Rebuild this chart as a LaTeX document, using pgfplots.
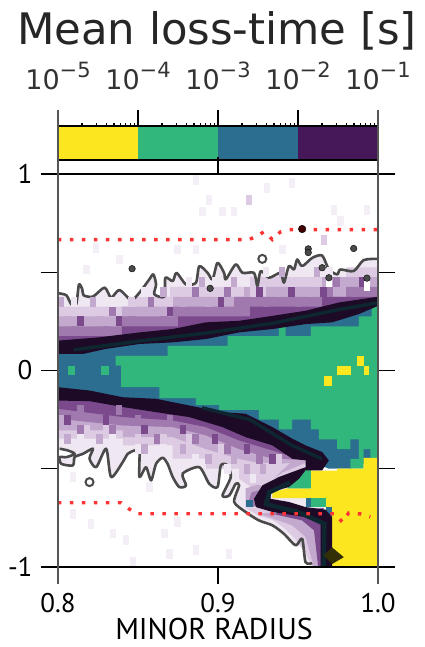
\documentclass[border=0pt]{standalone}
\usepackage{fontspec}
\setmainfont{PT Sans}
\newfontfamily\djv{DejaVu Sans}
\usepackage{pgfplots}
\pgfplotsset{compat=1.18}
\definecolor{vyel}{HTML}{FBE61F}
\definecolor{vgrn}{HTML}{31B67B}
\definecolor{vblu}{HTML}{2C6E8F}
\definecolor{vpur}{HTML}{46185A}
\definecolor{bandc}{HTML}{1C0A26}
\definecolor{bandi}{HTML}{0E2630}
\definecolor{Lone}{HTML}{EFE7F2}
\definecolor{Ltwo}{HTML}{DCCBE2}
\definecolor{Lthr}{HTML}{C3A9CD}
\definecolor{Lfou}{HTML}{A07AAE}
\definecolor{Lfiv}{HTML}{7A4A8C}
\definecolor{spine}{HTML}{555555}
\definecolor{cont}{HTML}{4A4A4A}
\pgfdeclareplotmark{cell}{\pgfpathrectangle{\pgfpoint{-3.2pt}{-4.9pt}}{\pgfpoint{6.4pt}{9.8pt}}\pgfusepathqfill}
\newcommand{\sci}[1]{10\raisebox{0.42em}{\fontsize{21}{21}\selectfont −#1}}
\begin{document}
\begin{tikzpicture}[x=1pt,y=1pt]
\path[use as bounding box] (-58,-80) rectangle (366,567);
\node[anchor=base,font=\djv\fontsize{43.4}{44}\selectfont,text=black!85] at (159,522) {Mean loss-time [s]};
% colour bar
\begin{axis}[at={(0pt,407pt)},anchor=south west,scale only axis,width=320pt,height=34pt,
  xmode=log,xmin=1e-5,xmax=1e-1,ymin=0,ymax=1,ytick=\empty,
  xtick={1e-5,1e-4,1e-3,1e-2,1e-1},xticklabels={\sci{5},\sci{4},\sci{3},\sci{2},\sci{1}},
  xticklabel pos=top,x tick label style={font=\djv\fontsize{27}{27}\selectfont,text=black!80,anchor=south,yshift=17pt},
  minor tick num=0,log ticks with fixed point=false,
  major tick length=16pt,tick align=outside,tick pos=upper,
  xtick style={black,line width=1.2pt},axis on top,
  separate axis lines,
  x axis line style={black,line width=1.6pt},y axis line style={draw=none}]
\addplot[fill=vyel,draw=none] coordinates {(1e-5,0)(1e-5,1)(1e-4,1)(1e-4,0)};
\addplot[fill=vgrn,draw=none] coordinates {(1e-4,0)(1e-4,1)(1e-3,1)(1e-3,0)};
\addplot[fill=vblu,draw=none] coordinates {(1e-3,0)(1e-3,1)(1e-2,1)(1e-2,0)};
\addplot[fill=vpur,draw=none] coordinates {(1e-2,0)(1e-2,1)(1e-1,1)(1e-1,0)};
\end{axis}
% main plot
\begin{axis}[at={(0pt,0pt)},anchor=south west,scale only axis,width=320pt,height=393pt,
  xmin=0.8,xmax=1,ymin=-1,ymax=1,clip=true,
  xtick={0.8,0.9,1},xticklabels={0.8,0.9,1.0},
  ytick={-1,-0.5,0,0.5,1},yticklabels={-1,,0,,1},
  x tick label style={font=\fontsize{27}{27}\selectfont,yshift=-6pt},
  y tick label style={font=\fontsize{27}{27}\selectfont,xshift=-5pt},
  xlabel={MINOR RADIUS},xlabel style={font=\fontsize{30}{30}\selectfont,inner sep=0pt,yshift=-1.5pt,xshift=-4pt},
  tick align=outside,x tick style={black,line width=1.2pt},y tick style={black,line width=1.4pt},
  major tick length=17pt,ytick pos=both,xtick pos=both,
  axis on top,axis line style={draw=none}]
% faint scattered cells
\addplot[only marks,mark=cell,mark options={fill=Lone!70!white,draw=none}] coordinates {
(.8945,.868)(.9308,.927)(.8862,.97)(.9464,.953)(.9765,.759)(.9661,.666)(.8748,.616)(.8862,.616)(.9402,.616)(.8903,.809)(.9028,.809)(.9101,.809)(.9724,.818)(.9931,.818)(.8177,.514)(.8384,.565)(.8239,.624)
(.8093,-.542)(.8208,-.78)(.8343,-.83)(.8426,-.864)(.8665,-.83)(.8748,-.771)(.8696,-.932)(.8467,-.975)(.8093,-.729)(.8862,-.915)(.907,-.932)(.8571,-.593)};
\addplot[only marks,mark=cell,mark options={fill=Ltwo,draw=none}] coordinates {(.9194,.868)(.9661,.666)};
% purple levels, upper half
\addplot[fill=Lone,draw=none] coordinates {(.8,.393)(.801,.393)(.8052,.383)(.8083,.337)(.8114,.337)(.8131,.438)(.8152,.413)(.816,.383)(.8218,.376)(.8291,.422)(.8332,.371)(.8384,.41)(.8457,.359)(.8509,.396)(.8571,.464)(.8596,.489)(.8613,.438)(.8602,.388)(.8665,.376)(.8671,.472)(.8717,.455)(.8741,.497)(.88,.438)(.8862,.447)(.8883,.531)(.8935,.497)(.8966,.464)(.8997,.548)(.9038,.497)(.9049,.464)(.9111,.54)(.9153,.497)(.9225,.497)(.9246,.43)(.9267,.506)(.9319,.472)(.9391,.497)(.9412,.447)(.9443,.531)(.9475,.514)(.9495,.565)(.9526,.531)(.9589,.573)(.9651,.585)(.9693,.514)(.9745,.489)(.9765,.514)(.9848,.506)(.9911,.562)(1,.568)(1,0)(.8,0)};
\addplot[const plot,fill=Ltwo,draw=none] coordinates {(.8,.325)(.845,.375)(.87,.425)(.92,.475)(.98,.525)(1,.525)(1,0)(.8,0)};
\addplot[const plot,fill=Lthr,draw=none] coordinates {(.8,.275)(.84,.325)(.872,.375)(.93,.425)(.965,.475)(1,.475)(1,0)(.8,0)};
\addplot[const plot,fill=Lfou,draw=none] coordinates {(.8,.225)(.84,.275)(.872,.325)(.91,.375)(.98,.425)(1,.425)(1,0)(.8,0)};
\addplot[const plot,fill=Lfiv,draw=none] coordinates {(.8,.175)(.84,.225)(.875,.275)(.92,.325)(.965,.375)(1,.375)(1,0)(.8,0)};
% purple levels, lower half
\addplot[fill=Lone,draw=none] coordinates {(.801,-.398)(.8062,-.407)(.8104,-.424)(.8052,-.441)(.801,-.441)(.8021,-.475)(.8093,-.483)(.8104,-.441)(.8156,-.424)(.8218,-.398)(.8197,-.449)(.8239,-.492)(.8301,-.398)(.8332,-.542)(.8405,-.466)(.8436,-.424)(.8478,-.407)(.8509,-.407)(.8509,-.542)(.855,-.492)(.8582,-.559)(.8613,-.475)(.8654,-.444)(.8685,-.475)(.8717,-.542)(.8758,-.593)(.88,-.585)(.8779,-.525)(.8883,-.492)(.8945,-.576)(.8997,-.593)(.9018,-.483)(.9059,-.483)(.908,-.542)(.9028,-.636)(.907,-.636)(.9111,-.576)(.9132,-.585)(.9101,-.669)(.9173,-.72)(.9256,-.763)(.934,-.788)(.9412,-.831)(.9485,-.89)(.9526,-.856)(.9547,-.975)(.9589,-1)(.966,-1)(.966,-.45)(.9547,-.42)(.934,-.32)(.9173,-.27)(.9028,-.24)(.882,-.2)(.8405,-.15)(.8,-.1)(.8,-.398)};
\addplot[fill=Ltwo,draw=none] coordinates {(.8,-.1)(.8,-.347)(.8405,-.347)(.8405,-.381)(.8717,-.381)(.8717,-.449)(.8924,-.449)(.8924,-.499)(.9132,-.499)(.9132,-.55)(.925,-.62)(.9329,-.62)(.96,-.45)(.9547,-.42)(.934,-.32)(.9173,-.27)(.9028,-.24)(.882,-.2)(.8405,-.15)};
\addplot[fill=Ltwo,draw=none] coordinates {(.9173,-.70)(.9256,-.74)(.934,-.76)(.9412,-.80)(.9485,-.86)(.9547,-.93)(.9589,-1)(.966,-1)(.966,-.70)};
\addplot[fill=Lthr,draw=none] coordinates {(.9256,-.729)(.9464,-.788)(.9547,-.847)(.9599,-1)(.966,-1)(.966,-.7)};
\addplot[fill=Lfiv,draw=none] coordinates {(.934,-.729)(.9526,-.763)(.96,-.814)(.9626,-1)(.966,-1)(.966,-.7)};
\addplot[fill=Lthr,draw=none] coordinates {(.9173,-.60)(.925,-.58)(.93,-.60)(.9225,-.695)(.9173,-.695)};
\addplot[fill=Lfou,draw=none] coordinates {(.921,-.62)(.93,-.60)(.9225,-.695)(.918,-.695)};
\addplot[fill=Lthr,draw=none] coordinates {(.8,-.1)(.8,-.305)(.8405,-.305)(.8405,-.339)(.8717,-.339)(.8924,-.40)(.9132,-.45)(.9256,-.47)(.9547,-.47)(.9547,-.42)(.934,-.32)(.9173,-.27)(.9028,-.24)(.882,-.2)(.8405,-.15)};
\addplot[fill=Lthr,draw=none] coordinates {(.9547,-.47)(.94,-.52)(.935,-.55)(.945,-.47)};
\addplot[fill=Lfou,draw=none] coordinates {(.8,-.1)(.8,-.246)(.8405,-.28)(.8717,-.288)(.8924,-.33)(.9132,-.40)(.934,-.449)(.9526,-.458)(.9547,-.42)(.934,-.32)(.9173,-.27)(.9028,-.24)(.882,-.2)(.8405,-.15)};
\addplot[fill=Lfiv,draw=none] coordinates {(.8,-.1)(.8,-.195)(.8405,-.237)(.8717,-.254)(.8924,-.288)(.9132,-.356)(.934,-.407)(.9526,-.454)(.9547,-.42)(.934,-.32)(.9173,-.27)(.9028,-.24)(.882,-.2)(.8405,-.15)};
% noise in the purple cells
\addplot[only marks,mark=cell,mark options={fill=Lone,draw=none}] coordinates {(.81,.35)(.834,.35)(.854,.40)(.882,.45)(.898,.45)(.93,.50)(.954,.50)(.97,.50)(.814,-.35)(.834,-.35)(.85,-.40)(.866,-.40)(.886,-.45)(.906,-.50)(.922,-.55)};
\addplot[only marks,mark=cell,mark options={fill=Ltwo,draw=none}] coordinates {(.81,.30)(.826,.30)(.846,.35)(.878,.40)(.898,.40)(.922,.40)(.946,.45)(.962,.45)(.83,-.30)(.85,-.35)(.866,-.35)(.818,-.30)(.882,-.35)(.902,-.40)(.926,-.45)(.938,-.45)};
\addplot[only marks,mark=cell,mark options={fill=Lthr,draw=none}] coordinates {(.802,.35)(.822,.35)(.866,.40)(.89,.45)(.91,.45)(.94,.50)(.962,.50)(.806,.25)(.826,.25)(.85,.30)(.862,.30)(.878,.35)(.894,.35)(.918,.40)(.938,.40)(.958,.40)(.97,.40)(.806,-.35)(.826,-.35)(.854,-.40)(.878,-.40)(.894,-.45)(.91,-.45)(.918,-.50)(.928,-.50)(.802,-.25)};
\addplot[only marks,mark=cell,mark options={fill=Lfou,draw=none}] coordinates {(.81,.20)(.83,.20)(.846,.25)(.866,.25)(.882,.30)(.902,.30)(.93,.35)(.95,.35)(.97,.40)(.986,.40)(.834,.30)(.858,.35)(.886,.40)(.906,.40)(.974,.45)(.814,-.20)(.838,-.20)(.85,-.25)(.87,-.25)(.814,-.30)(.834,-.30)(.862,-.35)(.886,-.35)(.906,-.40)(.926,-.45)};
\addplot[only marks,mark=cell,mark options={fill=Lfiv,draw=none}] coordinates {(.814,.25)(.838,.25)(.87,.30)(.902,.35)(.926,.40)(.946,.40)(.966,.40)(.99,.45)(.806,-.25)(.83,-.25)(.854,-.30)(.878,-.30)(.898,-.35)(.918,-.40)(.934,-.45)};
\addplot[only marks,mark=cell,mark options={fill=white,draw=none}] coordinates {(.9693,.45)(.9931,.43)};
% blue, green
\addplot[fill=vblu,draw=none] coordinates {(.8,.12)(.8717,.175)(.9132,.22)(.9547,.27)(.9963,.35)(1,.36)(1,-.445)(.9827,-.50)(.9693,-.5)(.9547,-.45)(.934,-.32)(.9173,-.27)(.9028,-.24)(.882,-.2)(.8405,-.15)(.8,-.12)};
\addplot[fill=vgrn,draw=none] coordinates {(.836,.075)(.8685,.075)(.8685,.125)(.906,.125)(.906,.175)(.938,.175)(.938,.225)(.9423,.225)(.9423,.175)(.958,.175)(.958,.225)(.988,.225)(.988,.275)(.996,.275)(.996,.325)(1,.325)(1,-.445)(.9952,-.445)(.9952,-.40)(.991,-.40)(.991,-.50)(.9827,-.50)(.9827,-.45)(.988,-.45)(.988,-.35)(.9827,-.35)(.9827,-.40)(.9745,-.40)(.9745,-.35)(.963,-.35)(.963,-.30)(.958,-.30)(.958,-.25)(.9464,-.25)(.9464,-.30)(.938,-.30)(.938,-.25)(.9256,-.25)(.9256,-.20)(.9007,-.20)(.9007,-.175)(.8862,-.175)(.8862,-.14)(.8633,-.14)(.8633,-.085)(.8395,-.085)(.8395,.025)(.836,.025)};
\addplot[fill=vgrn,draw=none] coordinates {(.8062,.025)(.8108,.025)(.8108,-.025)(.8062,-.025)};
\addplot[fill=vgrn,draw=none] coordinates {(.827,.025)(.8316,.025)(.8316,-.025)(.827,-.025)};
% yellow
\addplot[fill=vyel,draw=none] coordinates {(.991,-.445)(1,-.445)(1,-1)(.9713,-1)(.9713,-.70)(.9672,-.70)(.9672,-.65)(.934,-.65)(.934,-.62)(.9433,-.60)(.958,-.60)(.958,-.51)(.9745,-.51)(.9745,-.50)(.991,-.50)};
\addplot[fill=vyel,draw=none] coordinates {(.9745,.025)(.983,.025)(.983,-.025)(.9745,-.025)};
\addplot[fill=vyel,draw=none] coordinates {(.987,.075)(.991,.075)(.991,.025)(.987,.025)};
\addplot[fill=vyel,draw=none] coordinates {(.991,.025)(.9945,.025)(.9945,-.025)(.991,-.025)};
\addplot[fill=vyel,draw=none] coordinates {(.966,-.03)(.971,-.03)(.971,-.08)(.966,-.08)};
\addplot[fill=vgrn,draw=none] coordinates {(.9464,-.53)(.958,-.50)(.958,-.60)(.9433,-.60)};
\addplot[fill=vgrn,draw=none] coordinates {(.9584,-.65)(.9672,-.65)(.9672,-.695)(.9584,-.695)};
\addplot[fill=vblu,draw=none] coordinates {(.9547,-.65)(.9584,-.65)(.9584,-.695)(.9547,-.695)};
\addplot[fill=vblu,draw=none] coordinates {(.9672,-.695)(.9713,-.695)(.9713,-.76)(.9672,-.76)};
\addplot[fill=vblu,draw=none] coordinates {(.9173,-.66)(.922,-.66)(.922,-.695)(.9173,-.695)};
% dark bands
\addplot[fill=bandc,draw=none] coordinates {(.8,.152)(.826,.169)(.851,.194)(.8717,.211)(.8924,.245)(.9132,.253)(.934,.278)(.9547,.304)(.9755,.346)(.9963,.371)(1,.375)(1,.329)(.988,.287)(.9713,.245)(.9547,.236)(.934,.211)(.9132,.194)(.8924,.16)(.8717,.143)(.851,.135)(.83,.11)(.8156,.084)(.8,.084)};
\addplot[fill=bandc,draw=none] coordinates {(.8,-.085)(.8197,-.102)(.8405,-.136)(.8613,-.144)(.882,-.178)(.9028,-.212)(.9173,-.22)(.934,-.288)(.9464,-.347)(.9547,-.381)(.9651,-.415)(.9693,-.458)(.9651,-.508)(.9547,-.508)(.9506,-.551)(.9443,-.593)(.9329,-.619)(.9329,-.653)(.9443,-.669)(.9547,-.695)(.9672,-.708)(.9713,-.746)(.9713,-1)(.9641,-1)(.9641,-.78)(.9547,-.746)(.934,-.72)(.9236,-.695)(.9225,-.653)(.9277,-.585)(.9381,-.542)(.9547,-.492)(.9547,-.458)(.9464,-.449)(.934,-.381)(.9173,-.339)(.9028,-.288)(.882,-.237)(.8613,-.212)(.8405,-.186)(.8197,-.156)(.8,-.153)};
% teal-black inner part of the bands
\addplot[bandi,line width=3.5pt] coordinates {(.81,.105)(.851,.15)(.892,.19)(.934,.24)(.9755,.31)(1,.345)};
\addplot[bandi,line width=3.5pt] coordinates {(.89,-.19)(.92,-.25)(.946,-.38)(.965,-.45)};
\addplot[bandi,line width=4.5pt] coordinates {(.966,-1)(.9665,-.78)(.95,-.72)(.93,-.68)(.932,-.62)(.945,-.57)};
% tip and blob
\addplot[fill=Lthr,draw=none] coordinates {(.94,-.45)(.9547,-.458)(.94,-.475)};
\addplot[fill=black!80!vyel,draw=none] coordinates {(.9713,-.90)(.9786,-.95)(.9713,-.985)(.966,-.94)};
% contours
\addplot[cont,line width=2.6pt,line join=round,smooth,tension=0.45] coordinates {(.8,.393)(.8052,.383)(.8083,.337)(.8114,.337)(.8131,.438)(.8152,.413)(.816,.383)(.8218,.376)(.8291,.422)(.8332,.371)(.8384,.41)(.8457,.359)(.8509,.396)(.8571,.464)(.8596,.489)(.8613,.438)(.8602,.388)(.8665,.376)(.8671,.472)(.8717,.455)(.8741,.497)(.88,.438)(.8862,.447)(.8883,.531)(.8935,.497)(.8966,.464)(.8997,.548)(.9038,.497)(.9049,.464)(.9111,.54)(.9153,.497)(.9225,.497)(.9246,.43)(.9267,.506)(.9319,.472)(.9391,.497)(.9412,.447)(.9443,.531)(.9475,.514)(.9495,.565)(.9526,.531)(.9589,.573)(.9651,.585)(.9693,.514)(.9745,.489)(.9765,.514)(.9848,.506)(.9911,.562)(1,.568)};
\addplot[cont,line width=2.6pt,line join=round,smooth,tension=0.45] coordinates {(.801,-.398)(.8062,-.407)(.8104,-.424)(.8052,-.441)(.801,-.441)(.8021,-.475)(.8093,-.483)(.8104,-.441)(.8156,-.424)(.8218,-.398)(.8197,-.449)(.8239,-.492)(.8301,-.398)(.8332,-.542)(.8405,-.466)(.8436,-.424)(.8478,-.407)(.8509,-.407)(.8509,-.542)(.855,-.492)(.8582,-.559)(.8613,-.475)(.8654,-.444)(.8685,-.475)(.8717,-.542)(.8758,-.593)(.88,-.585)(.8779,-.525)(.8883,-.492)(.8945,-.576)(.8997,-.593)(.9018,-.483)(.9059,-.483)(.908,-.542)(.9028,-.636)(.907,-.636)(.9111,-.576)(.9132,-.585)(.9101,-.669)(.9173,-.72)(.9256,-.763)(.934,-.788)(.9412,-.831)(.9485,-.89)(.9526,-.856)(.9547,-.975)(.9589,-.98)};
\addplot[only marks,mark=*,mark size=3.3pt,mark options={fill=cont,draw=none}] coordinates {(.8463,.518)(.8951,.418)(.9564,.619)(.9564,.60)(.9848,.621)(.9651,.523)(.9693,.472)(.9931,.47)};
\addplot[only marks,mark=o,mark size=4pt,mark options={draw=cont,line width=2pt}] coordinates {(.9277,.568)(.8197,-.568)};
\addplot[only marks,mark=*,mark size=3.8pt,mark options={fill=black!75!red,draw=none}] coordinates {(.9526,.72)};
% separatrix
\addplot[red!80!white,line width=3.4pt,dash pattern=on 3.5pt off 8.5pt] coordinates {(.8,.666)(.9194,.666)(.9246,.686)(.9288,.706)(.934,.666)(.939,.705)(.9443,.717)(1,.717)};
\addplot[red!80!white,line width=3.4pt,dash pattern=on 3.5pt off 8.5pt] coordinates {(.8,-.673)(.8395,-.673)(.8442,-.703)(.8488,-.729)(.967,-.729)(.9734,-.729)(.9776,-.771)(.9817,-.725)(.989,-.73)(.9952,-.745)};
\end{axis}
% frame lines that run past the plot
\draw[black,line width=2.6pt] (-17,0) -- (337,0);
\draw[black,line width=1.4pt] (-17,393) -- (337,393);
\draw[spine,line width=2.6pt] (0,-17) -- (0,393);
\draw[spine,line width=2.6pt] (320,-17) -- (320,393);
\draw[spine,line width=2.6pt] (0,393) -- (0,457);
\draw[spine,line width=2.6pt] (320,393) -- (320,457);
\draw[black,line width=1.2pt] (160,393) -- (160,407);
\end{tikzpicture}
\end{document}
